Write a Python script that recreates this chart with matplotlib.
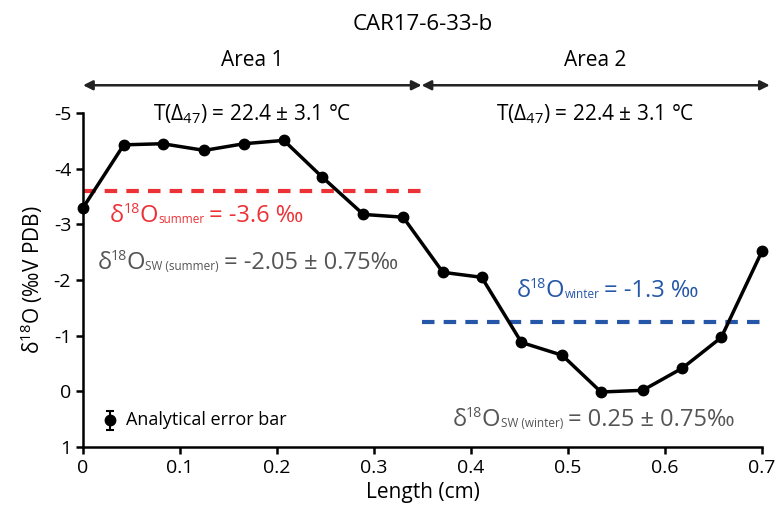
import numpy as np
import matplotlib.pyplot as plt
from matplotlib.transforms import offset_copy

plt.rcParams['font.family'] = ['Open Sans', 'DejaVu Sans']
plt.rcParams['mathtext.fontset'] = 'custom'
plt.rcParams['mathtext.rm'] = 'Open Sans'
plt.rcParams['mathtext.it'] = 'Open Sans:italic'
plt.rcParams['mathtext.bf'] = 'Open Sans:bold'
plt.rcParams['axes.unicode_minus'] = False

# Profile data
length_cm = [0.0, 0.042, 0.082, 0.125, 0.166, 0.207, 0.246, 0.289, 0.330,
             0.371, 0.411, 0.452, 0.494, 0.534, 0.577, 0.618, 0.658, 0.700]
d18o = [-3.30, -4.43, -4.45, -4.33, -4.45, -4.51, -3.86, -3.18, -3.13,
        -2.14, -2.05, -0.88, -0.65, 0.01, -0.02, -0.42, -0.97, -2.52]

summer_mean = -3.6
winter_mean = -1.25
summer_span = [0.0, 0.348]
winter_span = [0.349, 0.70]
error_pt = [0.028, 0.52]
error_size = 0.17

areas = ['Area 1', 'Area 2']
area_bounds = [(0.0, 0.349), (0.349, 0.708)]
temps = [r'T($\Delta_{47}$) = 22.4 ± 3.1 °C', r'T($\Delta_{47}$) = 22.4 ± 3.1 °C']

red = '#ec3237'
blue = '#2556a8'
gray = '#555555'

fig = plt.figure(figsize=(7.79, 5.31), dpi=100)
ax = fig.add_axes([0.1066, 0.158, 0.8716, 0.629])


def rich(x, y, sub, rest, color, size):
    # δ18O with a small subscript, then the rest of the label
    parts = [('δ', 'n', -0.6), ('18', 'sup', -0.4), ('O', 'n', 0.3),
             (sub, 'sub', 3.5), (rest, 'n', 0)]
    renderer = fig.canvas.get_renderer()
    dx = 0.0
    for s, kind, gap in parts:
        fs = {'n': size, 'sup': size * 0.6, 'sub': size * 0.5}[kind]
        dy = {'n': 0, 'sup': size * 0.38, 'sub': -size * 0.05}[kind]
        tr = offset_copy(ax.transData, fig=fig, x=dx, y=dy, units='points')
        t = ax.text(x, y, s, fontsize=fs, color=color, va='baseline', ha='left',
                    transform=tr)
        dx += t.get_window_extent(renderer).width * 72 / fig.dpi + gap


ax.plot(summer_span, [summer_mean] * 2, color=red, lw=3, ls=(0, (3, 2.2)))
ax.plot(winter_span, [winter_mean] * 2, color=blue, lw=3, ls=(0, (3, 2.2)))
ax.plot(length_cm, d18o, color='black', lw=2.5, marker='o', ms=7.5, clip_on=False, zorder=3)

# analytical error bar marker
ax.errorbar(error_pt[0], error_pt[1], yerr=error_size, fmt='o', color='black',
            ms=7.5, capsize=3, elinewidth=1.5, capthick=1.5)
ax.text(error_pt[0] + 0.016, error_pt[1], 'Analytical error bar', fontsize=13,
        va='center', ha='left')

ax.set_xlim(0, 0.7)
ax.set_ylim(1, -5)
ax.set_xticks([0, 0.1, 0.2, 0.3, 0.4, 0.5, 0.6, 0.7])
ax.set_xticklabels(['0', '0.1', '0.2', '0.3', '0.4', '0.5', '0.6', '0.7'])
ax.set_yticks([-5, -4, -3, -2, -1, 0, 1])
ax.set_xlabel('Length (cm)', fontsize=15, labelpad=4)
ax.set_ylabel(r'δ$^{18}$O (‰V PDB)', fontsize=15, labelpad=6)
ax.tick_params(labelsize=14, width=1.8, length=5, direction='out')
for s in ['top', 'right']:
    ax.spines[s].set_visible(False)
for s in ['left', 'bottom']:
    ax.spines[s].set_linewidth(1.8)

# annotations
rich(0.028, -3.04, 'summer', '= -3.6 ‰', red, 17)
rich(0.015, -2.2, 'SW (summer)', '= -2.05 ± 0.75‰', gray, 17)
rich(0.447, -1.70, 'winter', '= -1.3 ‰', blue, 17)
rich(0.381, 0.62, 'SW (winter)', '= 0.25 ± 0.75‰', gray, 17)

# area arrows above the plot
for name, (x0, x1), t in zip(areas, area_bounds, temps):
    ax.annotate('', xy=(x0, -5.5), xytext=(x1, -5.5), xycoords='data',
                arrowprops=dict(arrowstyle='<|-|>', color='#222222', lw=1.8,
                                mutation_scale=14, shrinkA=0, shrinkB=0),
                annotation_clip=False)
    ax.text((x0 + x1) / 2, -5.95, name, fontsize=15, ha='center', va='center')
    ax.text((x0 + x1) / 2, -4.98, t, fontsize=15, ha='center', va='center')

fig.text(0.543, 0.953, 'CAR17-6-33-b', fontsize=16, ha='center', va='center')

fig.savefig('out.png', dpi=100)
